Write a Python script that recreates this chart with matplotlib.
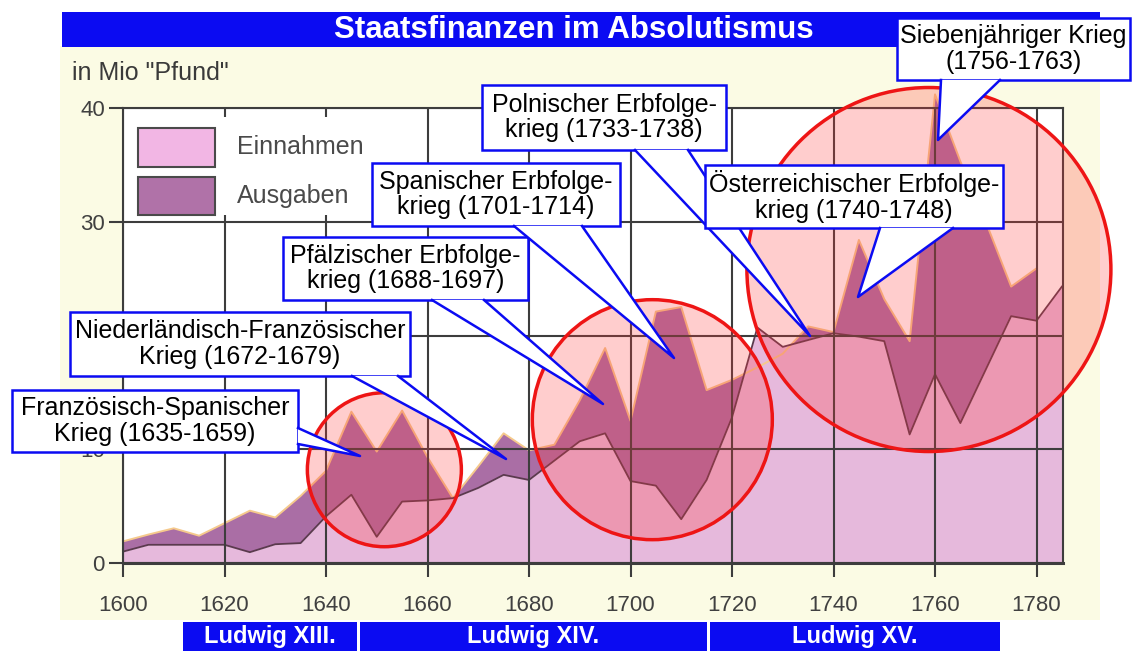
import numpy as np
import matplotlib
matplotlib.use("Agg")
import matplotlib.pyplot as plt
from matplotlib.patches import Rectangle, Polygon, Ellipse
from matplotlib.lines import Line2D
from matplotlib import font_manager

# data (Mio "Pfund")
years = [1600, 1605, 1610, 1615, 1620, 1625, 1630, 1635, 1640, 1645,
         1650, 1655, 1660, 1665, 1670, 1675, 1680, 1685, 1690, 1695,
         1700, 1705, 1710, 1715, 1720, 1725, 1730, 1735, 1740, 1745,
         1750, 1755, 1760, 1765, 1770, 1775, 1780, 1785]
einnahmen = [1.0, 1.6, 1.6, 1.6, 1.6, 0.95, 1.65, 1.75, 4.1, 6.0,
             2.3, 5.4, 5.5, 5.7, 6.6, 7.75, 7.3, 9.0, 10.7, 11.4,
             7.2, 6.8, 3.85, 7.3, 12.8, 20.7, 19.0, 19.6, 20.2, 19.9,
             19.5, 11.3, 16.6, 12.3, 17.0, 21.7, 21.3, 24.3]
ausgaben = [1.9, 2.5, 3.05, 2.4, 3.5, 4.6, 4.0, 5.9, 8.1, 13.3,
            9.8, 13.4, 9.3, 5.7, 8.5, 11.4, 9.9, 10.4, 14.3, 18.9,
            12.5, 22.1, 22.5, 15.2, 16.1, 17.2, 18.4, 20.8, 20.3, 28.4,
            23.2, 19.5, 41.2, 35.3, 30.0, 24.3, 25.9]

x_ticks = [1600, 1620, 1640, 1660, 1680, 1700, 1720, 1740, 1760, 1780]
y_ticks = [0, 10, 20, 30, 40]

kriege = [
    ("Französisch-Spanischer\nKrieg (1635-1659)", (12, 390, 298, 452), [(298, 428), (298, 444)], (360, 456)),
    ("Niederländisch-Französischer\nKrieg (1672-1679)", (70, 312, 410, 376), [(352, 376), (398, 376)], (506, 459)),
    ("Pfälzischer Erbfolge-\nkrieg (1688-1697)", (283, 237, 528, 300), [(432, 300), (484, 300)], (603, 404)),
    ("Spanischer Erbfolge-\nkrieg (1701-1714)", (372, 163, 620, 226), [(514, 226), (582, 226)], (674, 358)),
    ("Polnischer Erbfolge-\nkrieg (1733-1738)", (482, 85, 726, 150), [(635, 150), (688, 150)], (810, 336)),
    ("Österreichischer Erbfolge-\nkrieg (1740-1748)", (705, 165, 1003, 228), [(880, 228), (953, 228)], (858, 297)),
    ("Siebenjähriger Krieg\n(1756-1763)", (897, 18, 1130, 80), [(941, 80), (1000, 80)], (938, 140)),
]
# circles: centre year, centre value, radius in px
kreise = [(1651.5, 8.2, 77), (1704.3, 12.6, 120), (1758.8, 25.8, 182)]

herrscher = [("Ludwig XIII.", 183, 357), ("Ludwig XIV.", 360, 707), ("Ludwig XV.", 710, 1000)]

names = {f.name for f in font_manager.fontManager.ttflist}
narrow = "Liberation Sans Narrow" if "Liberation Sans Narrow" in names else "Liberation Sans"
plt.rcParams["font.family"] = ["Liberation Sans", "DejaVu Sans"]

W, H = 1136, 651
blue = "#0b0bf2"

def fx(x):
    return x / W

def fy(y):
    return 1 - y / H

fig = plt.figure(figsize=(W / 100, H / 100), dpi=100)
fig.patch.set_facecolor("white")

# cream background + title bar
fig.add_artist(Rectangle((fx(60), fy(620)), fx(1100) - fx(60), fy(46) - fy(620),
                         transform=fig.transFigure, fc="#fbfbe4", ec="none", zorder=-5))
fig.add_artist(Rectangle((fx(62), fy(47)), fx(1100) - fx(62), fy(12) - fy(47),
                         transform=fig.transFigure, fc=blue, ec="none", zorder=-4))
fig.text(fx(574), fy(30), "Staatsfinanzen im Absolutismus", color="white", fontsize=22.5,
         fontweight="bold", family=narrow, ha="center", va="center")
fig.text(fx(72), fy(73), 'in Mio "Pfund"', color="#3a3a3a", fontsize=18, family=narrow,
         ha="left", va="center")

ax = fig.add_axes([fx(123), fy(563), fx(1063.4) - fx(123), fy(108) - fy(563)])
ax.set_facecolor("white")
ax.set_xlim(1600, 1785.3)
ax.set_ylim(0, 40)

yrs = np.array(years)
ein = np.array(einnahmen)
aus = np.array(ausgaben)
n = len(aus)

ax.fill_between(yrs, 0, ein, color="#e6b9dc", lw=0, zorder=1, clip_on=False)
ax.fill_between(yrs[:n], ein[:n], aus, where=aus >= ein[:n], interpolate=True,
                color="#aa6ea5", lw=0, zorder=1.2, clip_on=False)
ax.plot(yrs[:n], aus, color="#f5c98c", lw=1.4, zorder=1.5, clip_on=False)
ax.plot(yrs, ein, color="#5b3a4e", lw=1.3, zorder=1.6)

ax.set_xticks(x_ticks)
ax.set_yticks(y_ticks)
ax.grid(True, color="#3d3d3d", lw=1.5, zorder=2.5)
ax.set_axisbelow(False)
for s in ax.spines.values():
    s.set_color("#3d3d3d")
    s.set_linewidth(1.5)
ax.spines["bottom"].set_linewidth(2.2)
ax.tick_params(length=10, width=1.5, color="#3d3d3d", labelcolor="#404040", labelsize=16)
ax.tick_params(axis="x", pad=13)
ax.tick_params(axis="y", pad=3)
for lab in ax.get_xticklabels() + ax.get_yticklabels():
    lab.set_family(narrow)

# white legend area
ax.add_patch(Rectangle((1600.3, 30.6), 59.0, 8.6, fc="white", ec="none", zorder=2.7))

# red circles
ppx = (fx(1063.4) - fx(123)) * W / (1785.3 - 1600)
ppy = (fy(108) - fy(563)) * H / 40
for cx, cy, r in kreise:
    ax.add_patch(Ellipse((cx, cy), 2 * r / ppx, 2 * r / ppy, fc=(1, 0.22, 0.22, 0.25),
                         ec="#ee1515", lw=2.5, zorder=3, clip_on=False))

# legend
for (lab, col, y0, y1) in [("Einnahmen", "#f2b6e4", 128, 167), ("Ausgaben", "#b072a8", 177, 215)]:
    fig.add_artist(Rectangle((fx(138), fy(y1)), fx(215) - fx(138), fy(y0) - fy(y1),
                             transform=fig.transFigure, fc=col, ec="#4a4a4a", lw=1.5, zorder=4))
    fig.text(fx(237), fy((y0 + y1) / 2), lab, color="#4a4a4a", fontsize=18, family=narrow,
             ha="left", va="center", zorder=4)

# callouts
z = 10
for txt, (x0, y0, x1, y1), base, tip in kriege:
    fig.add_artist(Rectangle((fx(x0), fy(y1)), fx(x1) - fx(x0), fy(y0) - fy(y1),
                             transform=fig.transFigure, fc="white", ec=blue, lw=1.8, zorder=z))
    pts = [(fx(base[0][0]), fy(base[0][1])), (fx(tip[0]), fy(tip[1])), (fx(base[1][0]), fy(base[1][1]))]
    fig.add_artist(Polygon(pts, closed=True, transform=fig.transFigure, fc="white", ec="none", zorder=z + 0.1))
    fig.add_artist(Line2D([p[0] for p in pts], [p[1] for p in pts], transform=fig.transFigure,
                          color=blue, lw=1.8, zorder=z + 0.2))
    fig.text(fx((x0 + x1) / 2), fy((y0 + y1) / 2), txt, fontsize=18, color="black",
             ha="center", va="center", linespacing=1.1, zorder=z + 0.3)
    z += 1

# kings
for name, x0, x1 in herrscher:
    fig.add_artist(Rectangle((fx(x0), fy(651)), fx(x1) - fx(x0), fy(622) - fy(651),
                             transform=fig.transFigure, fc=blue, ec="none", zorder=1))
    fig.text(fx((x0 + x1) / 2), fy(636.5), name, color="white", fontsize=17, fontweight="bold",
             family=narrow, ha="center", va="center", zorder=2)

fig.savefig("out.png", dpi=100)
